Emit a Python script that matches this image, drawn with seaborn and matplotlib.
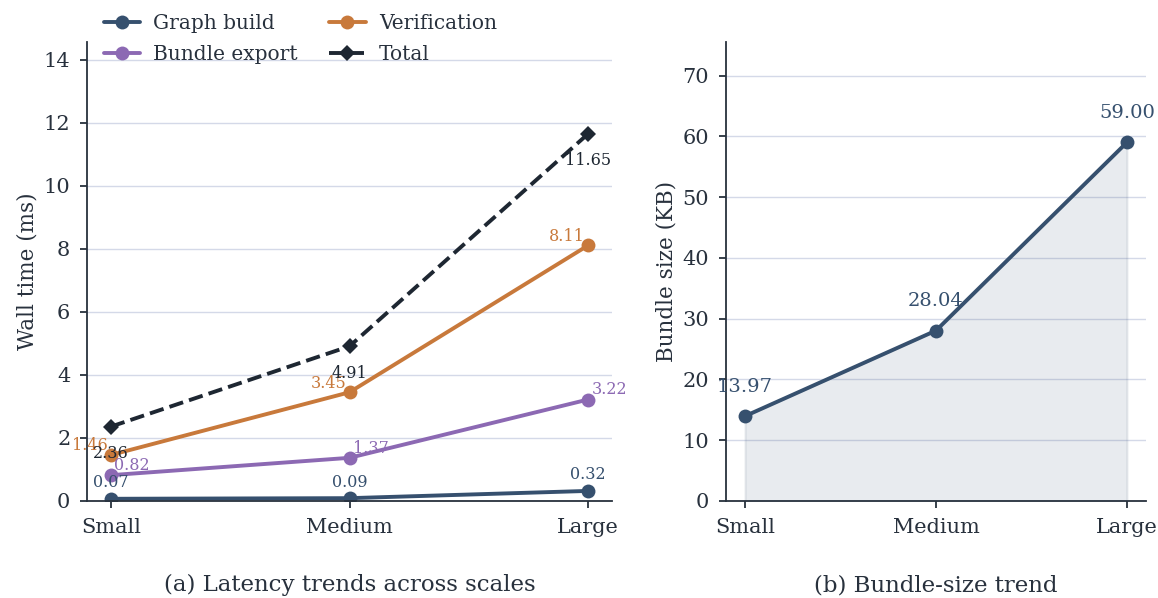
import numpy as np
import pandas as pd
import matplotlib
matplotlib.use("Agg")
import matplotlib.pyplot as plt
import seaborn as sns

scales = ["Small", "Medium", "Large"]
graph_build = [0.07, 0.09, 0.32]
verification = [1.46, 3.45, 8.11]
bundle_export = [0.82, 1.37, 3.22]
total = [2.36, 4.91, 11.65]
bundle_kb = [13.97, 28.04, 59.00]

ink = "#28313d"
grid_c = "#d4d9e8"

sns.set_theme(style="ticks")
plt.rcParams.update({
    "font.family": ["DejaVu Serif"],
    "text.color": ink,
    "axes.labelcolor": ink,
    "axes.edgecolor": ink,
    "xtick.color": ink,
    "ytick.color": ink,
    "axes.linewidth": 1.3,
    "xtick.major.width": 1.3,
    "ytick.major.width": 1.3,
    "xtick.major.size": 5,
    "ytick.major.size": 5,
    "xtick.major.pad": 7,
    "ytick.major.pad": 7,
})

fig = plt.figure(figsize=(11.58, 5.98), dpi=100)
ax1 = fig.add_axes([87 / 1158, 97 / 598, 525 / 1158, 459 / 598])
ax2 = fig.add_axes([726 / 1158, 97 / 598, 420 / 1158, 459 / 598])

x = np.arange(len(scales))

series = [
    ("Graph build", graph_build, "#36506e", "o", "-", (0, 11.5), "center"),
    ("Verification", verification, "#c8793b", "o", "-", (-2.5, 6.5), "right"),
    ("Bundle export", bundle_export, "#8c69b3", "o", "-", (2.5, 7), "left"),
    ("Total", total, "#1e2732", "D", "--", (0, -19.5), "center"),
]

for name, vals, col, mk, ls, off, ha in series:
    sns.lineplot(x=x, y=vals, ax=ax1, color=col, marker=mk, linestyle=ls,
                 linewidth=2.8, markersize=10 if mk == "o" else 8.5,
                 markeredgewidth=0, label=name)
    for xi, v in zip(x, vals):
        ax1.annotate(f"{v:.2f}", (xi, v), xytext=off, textcoords="offset points",
                     ha=ha, va="center", fontsize=11.5, color=col)

# legend fills column-wise, so reorder to get rows: Graph/Verification, Bundle/Total
h, l = ax1.get_legend_handles_labels()
order = [0, 2, 1, 3]
ax1.legend([h[i] for i in order], [l[i] for i in order], loc="upper left",
           bbox_to_anchor=(0.025, 1.07), ncol=2, frameon=False, fontsize=14.5,
           handlelength=1.8, handletextpad=0.65, columnspacing=1.55,
           labelspacing=0.6, borderpad=0.2, borderaxespad=0)

ax1.set_xlim(-0.1, 2.1)
ax1.set_ylim(0, 11.65 * 1.25)
ax1.set_yticks(np.arange(0, 15, 2))
ax1.set_xticks(x)
ax1.set_xticklabels(scales)
ax1.set_ylabel("Wall time (ms)", fontsize=15.5)
ax1.set_xlabel("(a) Latency trends across scales", fontsize=16.5, labelpad=27)

# bundle size panel
navy = "#36506e"
sns.lineplot(x=x, y=bundle_kb, ax=ax2, color=navy, marker="o", linewidth=2.8,
             markersize=10, markeredgewidth=0)
ax2.fill_between(x, bundle_kb, 0, color=navy, alpha=0.11, linewidth=1.5)
for xi, v in zip(x, bundle_kb):
    ax2.annotate(f"{v:.2f}", (xi, v), xytext=(0, 21), textcoords="offset points",
                 ha="center", va="center", fontsize=14, color=navy)
ax2.set_xlim(-0.1, 2.1)
ax2.set_ylim(0, 59 * 1.28)
ax2.set_yticks(np.arange(0, 71, 10))
ax2.set_xticks(x)
ax2.set_xticklabels(scales)
ax2.set_ylabel("Bundle size (KB)", fontsize=15.5)
ax2.set_xlabel("(b) Bundle-size trend", fontsize=16.5, labelpad=27)

for ax in (ax1, ax2):
    ax.grid(axis="y", color=grid_c, linewidth=1.0)
    ax.set_axisbelow(True)
    ax.tick_params(labelsize=15)
    sns.despine(ax=ax)

fig.savefig("out.png", dpi=100)
